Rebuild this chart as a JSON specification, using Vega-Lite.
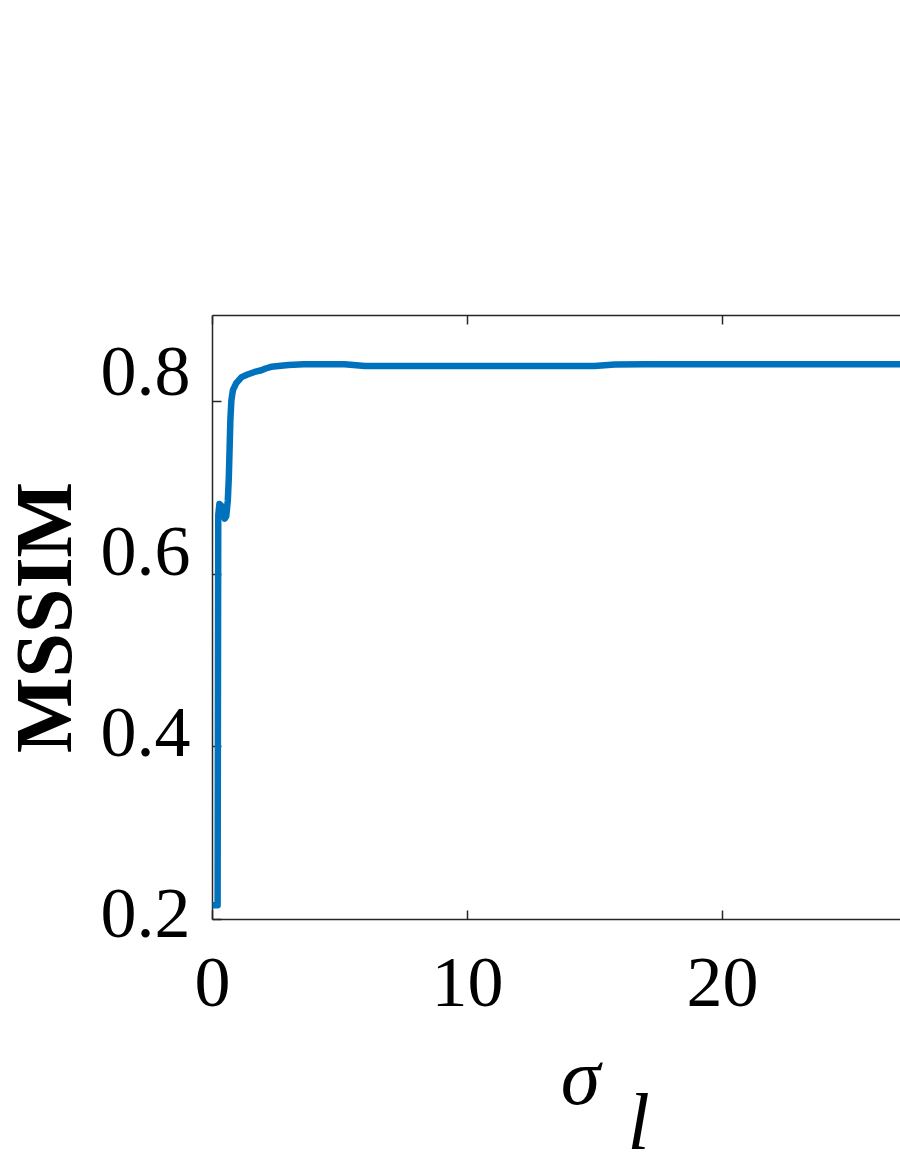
{
  "$schema": "https://vega.github.io/schema/vega-lite/v6.json",
  "autosize": {"type": "none"},
  "padding": {"left": 212, "top": 315, "right": 0, "bottom": 245},
  "width": 688,
  "height": 604,
  "background": "white",
  "config": {
    "view": {"stroke": null},
    "axis": {
      "labelFont": "Liberation Serif",
      "titleFont": "Liberation Serif",
      "domainColor": "#262626",
      "tickColor": "#262626",
      "labelColor": "black",
      "titleColor": "black",
      "grid": false
    }
  },
  "data": {
    "values": [
      {"sigma": 0.02, "mssim": 0.216},
      {"sigma": 0.1, "mssim": 0.216},
      {"sigma": 0.22, "mssim": 0.216},
      {"sigma": 0.235, "mssim": 0.5},
      {"sigma": 0.245, "mssim": 0.668},
      {"sigma": 0.29, "mssim": 0.681},
      {"sigma": 0.36, "mssim": 0.679},
      {"sigma": 0.42, "mssim": 0.674},
      {"sigma": 0.5, "mssim": 0.664},
      {"sigma": 0.56, "mssim": 0.667},
      {"sigma": 0.62, "mssim": 0.685},
      {"sigma": 0.66, "mssim": 0.712},
      {"sigma": 0.69, "mssim": 0.745},
      {"sigma": 0.72, "mssim": 0.778},
      {"sigma": 0.76, "mssim": 0.801},
      {"sigma": 0.82, "mssim": 0.813},
      {"sigma": 0.95, "mssim": 0.821},
      {"sigma": 1.16, "mssim": 0.828},
      {"sigma": 1.39, "mssim": 0.831},
      {"sigma": 1.67, "mssim": 0.834},
      {"sigma": 1.94, "mssim": 0.836},
      {"sigma": 2.1, "mssim": 0.838},
      {"sigma": 2.32, "mssim": 0.84},
      {"sigma": 3.0, "mssim": 0.842},
      {"sigma": 3.6, "mssim": 0.843},
      {"sigma": 4.5, "mssim": 0.843},
      {"sigma": 5.2, "mssim": 0.843},
      {"sigma": 6.0, "mssim": 0.841},
      {"sigma": 8.0, "mssim": 0.841},
      {"sigma": 10.0, "mssim": 0.841},
      {"sigma": 12.0, "mssim": 0.841},
      {"sigma": 14.0, "mssim": 0.841},
      {"sigma": 15.0, "mssim": 0.841},
      {"sigma": 15.8, "mssim": 0.8425},
      {"sigma": 17.0, "mssim": 0.843},
      {"sigma": 20.0, "mssim": 0.843},
      {"sigma": 25.0, "mssim": 0.843},
      {"sigma": 30.0, "mssim": 0.843}
    ]
  },
  "layer": [
    {
      "mark": {"type": "line", "color": "#0072BD", "strokeWidth": 6.5, "clip": true, "strokeJoin": "round", "strokeCap": "butt"},
      "encoding": {
        "x": {
          "field": "sigma",
          "type": "quantitative",
          "scale": {"domain": [0, 26.98], "nice": false, "zero": false},
          "axis": {
            "orient": "bottom",
            "values": [0, 10, 20],
            "format": "d",
            "labelFontSize": 72,
            "labelFlush": false,
            "tickSize": -9,
            "tickWidth": 1.5,
            "labelPadding": 38,
            "domainWidth": 1.5,
            "title": ["σ\u00a0\u00a0\u200b", "\u200b\u00a0\u00a0\u00a0\u2009l"],
            "titleFontSize": 80,
            "titleFontStyle": "italic",
            "titleFontWeight": "normal",
            "titleLineHeight": 45,
            "titleX": 388,
            "titleY": 184,
            "titleBaseline": "alphabetic"
          }
        },
        "y": {
          "field": "mssim",
          "type": "quantitative",
          "scale": {"domain": [0.2, 0.9], "nice": false, "zero": false},
          "axis": {
            "orient": "left",
            "values": [0.2, 0.4, 0.6, 0.8],
            "format": ".1f",
            "labelFontSize": 72,
            "labelFlush": false,
            "tickSize": -9,
            "tickWidth": 1.5,
            "labelPadding": 31,
            "domainWidth": 1.5,
            "labelOffset": {"expr": "-5 - (datum.value - 0.2) * 40"},
            "title": "MSSIM",
            "titleFontSize": 80,
            "titleFontWeight": "bold",
            "titlePadding": 13
          }
        }
      }
    },
    {
      "mark": {"type": "line", "strokeOpacity": 0},
      "encoding": {
        "x": {
          "field": "sigma",
          "type": "quantitative",
          "axis": {
            "orient": "top",
            "values": [0, 10, 20],
            "labels": false,
            "title": null,
            "tickSize": -9,
            "tickWidth": 1.5,
            "domainWidth": 1.5
          }
        },
        "y": {"field": "mssim", "type": "quantitative"}
      }
    }
  ],
  "resolve": {"axis": {"x": "independent"}}
}
